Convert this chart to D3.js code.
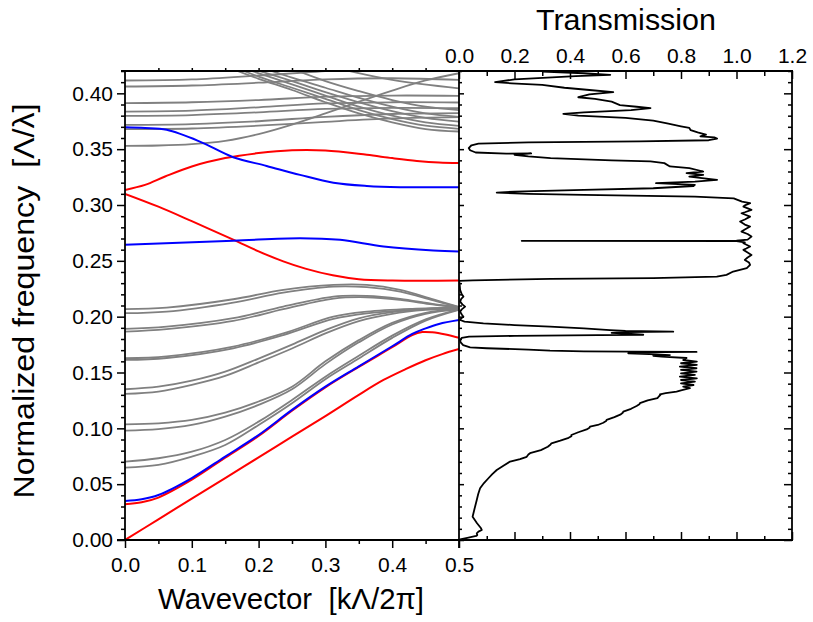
<!DOCTYPE html>
<html><head><meta charset="utf-8">
<script src="https://cdn.jsdelivr.net/npm/d3@7"></script>
<style>
body{margin:0;background:#fff}
text{font-family:"Liberation Sans",Arial,sans-serif;fill:#000}
</style>
</head><body><svg id="c" width="813" height="622"></svg>
<script>
// ---------- DATA ----------
const freqTicks = [0.00,0.05,0.10,0.15,0.20,0.25,0.30,0.35,0.40];
const kTicks = [0.0,0.1,0.2,0.3,0.4,0.5];
const transTicks = [0.0,0.2,0.4,0.6,0.8,1.0,1.2];

// red bands [k, f]
const red1 = [[0,0],[0.05,0.0185],[0.1,0.037],[0.15,0.0555],[0.2,0.074],[0.25,0.0925],[0.3,0.111],[0.35,0.130],[0.387,0.1433],[0.42,0.153],[0.45,0.161],[0.475,0.1665],[0.5,0.171]];
const red2 = [[0,0.032],[0.025,0.0338],[0.05,0.038],[0.1,0.054],[0.15,0.0737],[0.2,0.0932],[0.25,0.1158],[0.3,0.1367],[0.35,0.155],[0.4,0.1726],[0.43,0.1835],[0.445,0.1862],[0.46,0.186],[0.48,0.1840],[0.5,0.181]];
const red3 = [[0,0.310],[0.05,0.2985],[0.1,0.2855],[0.162,0.269],[0.2,0.2585],[0.237,0.2495],[0.27,0.243],[0.311,0.237],[0.35,0.2335],[0.4,0.2323],[0.5,0.2323]];
const red4 = [[0,0.3135],[0.03,0.318],[0.06,0.3255],[0.1,0.3345],[0.15,0.342],[0.2,0.3465],[0.25,0.349],[0.3,0.3488],[0.362,0.3449],[0.4,0.342],[0.437,0.3395],[0.47,0.338],[0.5,0.3375]];
// blue bands
const blue1 = [[0,0.035],[0.025,0.0365],[0.05,0.0403],[0.1,0.0555],[0.15,0.0747],[0.2,0.094],[0.25,0.1165],[0.3,0.1373],[0.35,0.1555],[0.4,0.1735],[0.43,0.1845],[0.45,0.1895],[0.47,0.1935],[0.5,0.197]];
const blue2 = [[0,0.2643],[0.162,0.268],[0.262,0.2703],[0.322,0.2688],[0.387,0.2628],[0.4616,0.2592],[0.5,0.2583]];
const blue3 = [[0,0.3696],[0.03,0.369],[0.0624,0.3673],[0.112,0.3568],[0.162,0.3428],[0.212,0.335],[0.262,0.327],[0.312,0.320],[0.362,0.3171],[0.412,0.316],[0.5,0.316]];
// gray bands (lower group)
const grayLow = [
 [[0,0.0648],[0.05,0.0672],[0.1,0.0746],[0.15,0.0851],[0.2,0.103],[0.25,0.1225],[0.3,0.144],[0.35,0.1625],[0.4,0.181],[0.45,0.1965],[0.5,0.2062]],
 [[0,0.0702],[0.05,0.0732],[0.1,0.0791],[0.15,0.0896],[0.2,0.106],[0.25,0.1254],[0.3,0.1463],[0.35,0.165],[0.4,0.183],[0.45,0.1975],[0.5,0.2065]],
 [[0,0.0979],[0.05,0.0992],[0.1,0.103],[0.15,0.1105],[0.2,0.121],[0.25,0.135],[0.3,0.1575],[0.35,0.177],[0.4,0.193],[0.45,0.2025],[0.5,0.2068]],
 [[0,0.1036],[0.05,0.1045],[0.1,0.1075],[0.15,0.114],[0.2,0.124],[0.25,0.1373],[0.3,0.16],[0.35,0.179],[0.4,0.1945],[0.45,0.2035],[0.5,0.2072]],
 [[0,0.1308],[0.05,0.1329],[0.1,0.1389],[0.15,0.1469],[0.2,0.159],[0.25,0.1715],[0.3,0.185],[0.35,0.196],[0.4,0.2025],[0.45,0.206],[0.5,0.2075]],
 [[0,0.135],[0.05,0.1373],[0.1,0.1427],[0.15,0.1508],[0.2,0.1625],[0.25,0.175],[0.3,0.188],[0.35,0.1985],[0.4,0.204],[0.45,0.207],[0.5,0.208]],
 [[0,0.1613],[0.0624,0.163],[0.162,0.1717],[0.237,0.1835],[0.312,0.198],[0.362,0.203],[0.43,0.206],[0.5,0.2078]],
 [[0,0.1628],[0.0624,0.1645],[0.162,0.1732],[0.237,0.185],[0.312,0.200],[0.362,0.2045],[0.43,0.207],[0.5,0.208]],
 [[0,0.1866],[0.0624,0.1888],[0.162,0.1962],[0.237,0.2067],[0.312,0.2162],[0.362,0.2174],[0.412,0.215],[0.46,0.211],[0.5,0.2082]],
 [[0,0.189],[0.0624,0.191],[0.162,0.1986],[0.237,0.209],[0.312,0.218],[0.362,0.2186],[0.412,0.216],[0.46,0.2115],[0.5,0.2085]],
 [[0,0.2031],[0.0624,0.2045],[0.162,0.2126],[0.237,0.2215],[0.312,0.2269],[0.362,0.2264],[0.412,0.2224],[0.4616,0.2145],[0.5,0.2085]],
 [[0,0.2067],[0.0624,0.2081],[0.162,0.2156],[0.237,0.224],[0.312,0.2284],[0.362,0.2284],[0.412,0.224],[0.4616,0.2155],[0.5,0.2088]]
];
// gray bands (upper group)
const grayHigh = [
 [[0,0.353],[0.05,0.3533],[0.1,0.3545],[0.15,0.3575],[0.2,0.3635],[0.25,0.372],[0.3,0.382],[0.35,0.3925],[0.4,0.4025],[0.45,0.4115],[0.5,0.418]],
 [[0,0.3679],[0.1,0.3685],[0.2,0.371],[0.3,0.3745],[0.4,0.3775],[0.5,0.3787]],
 [[0,0.3718],[0.1,0.3725],[0.2,0.375],[0.3,0.379],[0.4,0.3815],[0.5,0.3823]],
 [[0,0.3798],[0.1,0.3805],[0.2,0.383],[0.3,0.386],[0.4,0.387],[0.5,0.3867]],
 [[0,0.3837],[0.1,0.3845],[0.2,0.3875],[0.3,0.391],[0.4,0.392],[0.5,0.3918]],
 [[0,0.3912],[0.1,0.392],[0.2,0.394],[0.3,0.397],[0.4,0.398],[0.5,0.3978]],
 [[0,0.4061],[0.1,0.407],[0.2,0.4095],[0.3,0.4125],[0.4,0.4135],[0.5,0.412]],
 [[0,0.4115],[0.1,0.4125],[0.2,0.416],[0.3,0.42],[0.35,0.423]],
 [[0.16,0.422],[0.2,0.413],[0.25,0.403],[0.3,0.392],[0.35,0.382],[0.4,0.374],[0.45,0.368],[0.5,0.3658]],
 [[0.17,0.422],[0.2,0.415],[0.25,0.405],[0.3,0.395],[0.35,0.385],[0.4,0.377],[0.45,0.371],[0.5,0.3682]],
 [[0.18,0.422],[0.25,0.408],[0.3,0.398],[0.35,0.388],[0.4,0.380],[0.45,0.374],[0.5,0.3709]],
 [[0.19,0.422],[0.25,0.411],[0.3,0.401],[0.35,0.392],[0.4,0.384],[0.45,0.378],[0.5,0.3747]],
 [[0.21,0.422],[0.25,0.414],[0.3,0.405],[0.35,0.396],[0.4,0.388],[0.45,0.382],[0.5,0.379]],
 [[0.25,0.422],[0.3,0.411],[0.35,0.402],[0.4,0.394],[0.45,0.388],[0.5,0.385]],
 [[0.3,0.425],[0.4,0.412],[0.5,0.4045]]
];
// transmission [f, T]
const transmission = [
[0.4195,0.30],[0.4180,0.45],[0.4165,0.545],[0.4155,0.42],[0.4125,0.20],[0.4100,0.13],[0.4090,0.19],[0.4075,0.30],[0.4050,0.38],[0.4030,0.47],[0.4010,0.556],[0.3990,0.47],[0.3965,0.43],[0.3950,0.49],[0.3925,0.55],[0.3895,0.58],[0.3880,0.64],[0.3867,0.69],[0.3850,0.62],[0.3830,0.45],[0.3816,0.376],[0.3800,0.43],[0.3780,0.60],[0.3755,0.70],[0.3730,0.75],[0.3705,0.80],[0.3690,0.83],[0.3670,0.835],[0.3650,0.86],[0.3630,0.89],[0.3615,0.87],[0.3605,0.92],[0.3595,0.93],[0.3580,0.90],[0.3570,0.65],[0.3560,0.25],[0.3550,0.07],
[0.3535,0.045],[0.3510,0.035],[0.3490,0.04],[0.3470,0.06],[0.3460,0.17],[0.3462,0.26],[0.3450,0.20],[0.3435,0.25],[0.3420,0.33],[0.3400,0.55],[0.3390,0.69],[0.3375,0.74],[0.3345,0.76],[0.3330,0.83],[0.3300,0.88],[0.3285,0.82],[0.3270,0.88],[0.3255,0.83],[0.3225,0.93],[0.3210,0.85],[0.3195,0.71],[0.3180,0.85],[0.3170,0.845],[0.3150,0.70],[0.3135,0.45],[0.3120,0.20],[0.3111,0.136],[0.3100,0.25],[0.3090,0.45],[0.3075,0.85],[0.3060,0.99],[0.3030,1.02],
[0.3016,1.049],[0.2996,1.03],[0.2986,1.025],[0.2956,1.054],[0.2935,1.03],[0.2926,1.018],[0.2896,1.049],[0.2870,1.03],[0.2852,1.013],[0.2825,1.03],[0.2807,1.049],[0.2780,1.03],[0.2762,1.018],[0.2740,1.04],[0.2717,1.054],[0.2690,1.04],[0.2680,1.00],[0.2679,0.226],[0.2676,1.00],[0.2665,1.03],[0.2658,1.025],[0.2628,1.049],[0.2610,1.035],[0.2598,1.025],[0.2575,1.04],[0.2553,1.054],[0.2530,1.04],[0.2508,1.03],[0.2485,1.045],[0.2464,1.049],[0.2434,1.037],[0.2404,0.988],[0.2374,0.964],[0.2359,0.929],[0.2345,0.70],[0.2338,0.33],[0.2325,0.05],[0.2320,0.0],
[0.2300,0.002],[0.2240,0.004],[0.2200,0.010],[0.2180,0.016],[0.2160,0.008],[0.2135,0.004],[0.2110,0.012],[0.2090,0.022],[0.2065,0.010],[0.2045,0.004],[0.2020,0.010],[0.2000,0.016],[0.1985,0.008],[0.1970,0.004],
[0.1955,0.02],[0.1940,0.088],[0.1925,0.20],[0.1910,0.328],[0.1895,0.45],[0.1880,0.544],[0.1872,0.60],[0.1866,0.772],[0.1862,0.60],[0.1855,0.55],[0.1845,0.62],[0.1838,0.664],[0.1834,0.50],[0.1828,0.20],[0.1821,0.036],[0.1810,0.01],[0.1790,0.004],[0.1770,0.006],[0.1745,0.015],[0.1725,0.04],[0.1717,0.10],[0.1705,0.25],[0.1696,0.328],[0.1690,0.45],[0.1687,0.61],[0.1684,0.856],[0.1680,0.62],[0.1672,0.61],[0.1662,0.71],[0.1656,0.76],[0.1650,0.70],[0.1642,0.73],[0.1630,0.82],
[0.1612,0.808],[0.1598,0.857],[0.1583,0.80],[0.1568,0.857],[0.1553,0.796],[0.1538,0.856],[0.1523,0.80],[0.1508,0.856],[0.1493,0.80],[0.1478,0.85],[0.1463,0.796],[0.1448,0.857],[0.1433,0.80],[0.1418,0.85],[0.1403,0.80],[0.1388,0.845],[0.1373,0.808],[0.1359,0.832],
[0.1340,0.80],[0.1329,0.784],[0.1315,0.745],[0.1305,0.724],[0.1299,0.726],[0.1285,0.72],[0.1270,0.715],[0.1250,0.68],[0.1225,0.652],[0.1215,0.65],[0.1200,0.64],[0.1175,0.62],[0.1149,0.592],[0.1140,0.59],[0.1125,0.583],[0.1100,0.56],[0.1075,0.532],[0.1065,0.53],[0.1050,0.52],[0.1030,0.50],[0.1015,0.472],[0.1005,0.47],[0.0990,0.46],[0.0965,0.43],[0.0940,0.405],[0.0930,0.405],[0.0915,0.395],[0.0890,0.365],[0.0866,0.333],[0.0855,0.33],[0.0835,0.32],[0.0805,0.295],[0.0777,0.256],[0.0765,0.25],[0.0745,0.244],[0.0725,0.22],[0.0702,0.184],[0.0665,0.16],[0.0627,0.136],[0.0590,0.12],[0.0553,0.106],[0.0510,0.09],[0.0463,0.076],[0.0410,0.069],[0.0358,0.064],[0.0280,0.056],[0.0209,0.049],[0.0150,0.065],[0.0110,0.078],[0.0090,0.082],[0.0075,0.070],[0.0060,0.064],[0.0045,0.066],[0.0036,0.062],[0.0020,0.03],[0.0006,0.004]
];

// ---------- DRAW ----------
const svg = d3.select("#c");
const x = d3.scaleLinear().domain([0,0.5]).range([125,459]);
const y = d3.scaleLinear().domain([0,0.42]).range([540,71]);
const xt = d3.scaleLinear().domain([0,1.2]).range([459,792]);

const defs = svg.append("defs");
defs.append("clipPath").attr("id","cl").append("rect").attr("x",125).attr("y",71).attr("width",334).attr("height",469);
defs.append("clipPath").attr("id","cr").append("rect").attr("x",459).attr("y",70).attr("width",333).attr("height",471);

const band = d3.line().x(d=>x(d[0])).y(d=>y(d[1])).curve(d3.curveCatmullRom.alpha(0.5));
const gL = svg.append("g").attr("clip-path","url(#cl)");
function drawBands(arr,color,w){
  gL.append("g").selectAll("path").data(arr).join("path")
    .attr("d",band).attr("fill","none").attr("stroke",color).attr("stroke-width",w);
}
drawBands(grayLow,"#808080",1.8);
drawBands(grayHigh,"#808080",1.8);
drawBands([red1,red2,red3,red4],"#ff0000",2);
drawBands([blue1,blue2,blue3],"#0000ff",2);

const tline = d3.line().x(d=>xt(d[1])).y(d=>y(d[0]));
svg.append("g").attr("clip-path","url(#cr)").append("path").datum(transmission)
  .attr("d",tline).attr("fill","none").attr("stroke","#000").attr("stroke-width",1.8).attr("stroke-linejoin","round");

const FS = 21;
function style(g){
  g.select(".domain").remove();
  g.selectAll(".tick line").attr("stroke","#000").attr("stroke-width",1.5);
  g.selectAll("text").attr("font-size",FS).attr("fill","#000").style("font-family","'Liberation Sans',Arial,sans-serif");
}
const minorF = d3.range(0,43).map(i=>i/100).filter(v=>Math.round(v*100)%5!==0);
const majorF = d3.range(0,9).map(i=>i*0.05);

// left axis
svg.append("g").attr("transform","translate(125,0)")
  .call(d3.axisLeft(y).tickValues(freqTicks).tickSize(8).tickPadding(4).tickFormat(d3.format(".2f"))).call(style);
svg.append("g").attr("transform","translate(125,0)")
  .call(d3.axisLeft(y).tickValues(minorF).tickSize(4).tickFormat("")).call(style);
// bottom axis left panel
svg.append("g").attr("transform","translate(0,540)")
  .call(d3.axisBottom(x).tickValues(kTicks).tickSize(8).tickPadding(9).tickFormat(d3.format(".1f"))).call(style);
svg.append("g").attr("transform","translate(0,540)")
  .call(d3.axisBottom(x).tickValues([0.05,0.15,0.25,0.35,0.45]).tickSize(4).tickFormat("")).call(style);
// top of left panel small ticks
svg.append("g").attr("transform","translate(0,71)")
  .call(d3.axisTop(x).tickValues([0.05,0.1,0.15,0.2,0.25,0.3,0.35,0.4,0.45]).tickSize(3).tickFormat("")).call(style);
// divider ticks (pointing into right panel)
svg.append("g").attr("transform","translate(459,0)")
  .call(d3.axisRight(y).tickValues(minorF).tickSize(3).tickFormat("")).call(style);
svg.append("g").attr("transform","translate(459,0)")
  .call(d3.axisRight(y).tickValues(majorF).tickSize(5).tickFormat("")).call(style);
// right axis (inward)
svg.append("g").attr("transform","translate(792,0)")
  .call(d3.axisLeft(y).tickValues(minorF).tickSize(4).tickFormat("")).call(style);
svg.append("g").attr("transform","translate(792,0)")
  .call(d3.axisLeft(y).tickValues(majorF).tickSize(8).tickFormat("")).call(style);
// top axis right panel (inward ticks, labels)
svg.append("g").attr("transform","translate(0,71)")
  .call(d3.axisTop(xt).tickValues(transTicks).tickSize(-8).tickPadding(8).tickFormat(d3.format(".1f"))).call(style);
svg.append("g").attr("transform","translate(0,71)")
  .call(d3.axisTop(xt).tickValues([0.1,0.3,0.5,0.7,0.9,1.1]).tickSize(-5).tickFormat("")).call(style);
// bottom axis right panel (inward ticks)
svg.append("g").attr("transform","translate(0,540)")
  .call(d3.axisBottom(xt).tickValues(transTicks.slice(1)).tickSize(-8).tickFormat("")).call(style);
svg.append("g").attr("transform","translate(0,540)")
  .call(d3.axisBottom(xt).tickValues([0.1,0.3,0.5,0.7,0.9,1.1]).tickSize(-4).tickFormat("")).call(style);

// frame
const fr = svg.append("g").attr("stroke","#000").attr("stroke-width",1.8).attr("fill","none");
fr.append("line").attr("x1",125).attr("x2",125).attr("y1",71).attr("y2",540);
fr.append("line").attr("x1",459).attr("x2",459).attr("y1",71).attr("y2",548);
fr.append("line").attr("x1",792).attr("x2",792).attr("y1",71).attr("y2",540);
fr.append("line").attr("x1",121).attr("x2",793).attr("y1",71).attr("y2",71);
fr.append("line").attr("x1",117).attr("x2",793).attr("y1",540).attr("y2",540);

// titles
svg.append("text").attr("x",626).attr("y",30).attr("text-anchor","middle").attr("font-size",29)
  .attr("textLength",180).attr("lengthAdjust","spacingAndGlyphs").text("Transmission");
svg.append("text").attr("x",291).attr("y",609).attr("text-anchor","middle").attr("font-size",29).style("white-space","pre")
  .attr("textLength",266).attr("lengthAdjust","spacingAndGlyphs").text("Wavevector  [kΛ/2π]");
svg.append("text").attr("transform","translate(34,301) rotate(-90)").attr("text-anchor","middle").attr("font-size",29).style("white-space","pre")
  .attr("textLength",395).attr("lengthAdjust","spacingAndGlyphs").text("Normalized frequency  [Λ/λ]");
</script></body></html>
